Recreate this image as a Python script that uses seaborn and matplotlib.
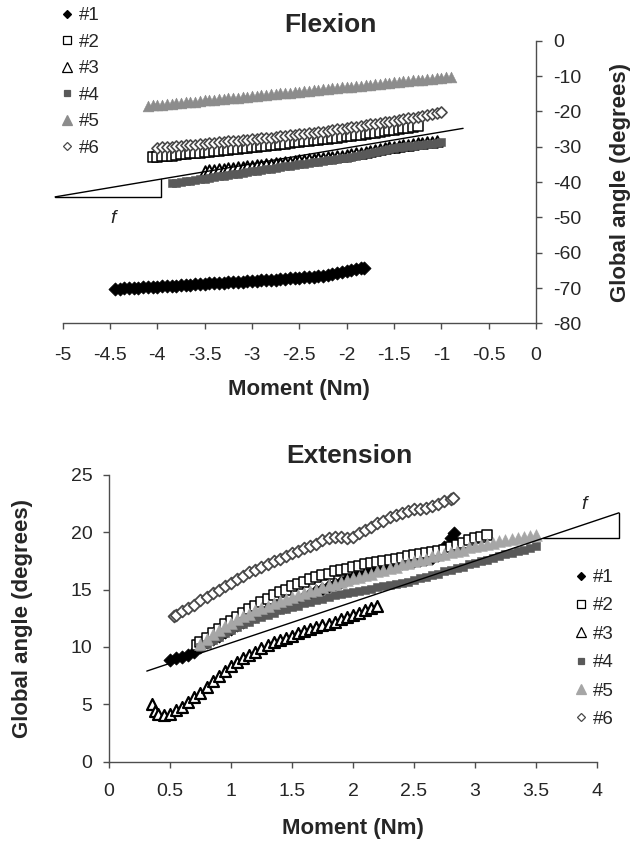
import matplotlib
matplotlib.use("Agg")
import matplotlib.pyplot as plt
import pandas as pd
import seaborn as sns
from matplotlib.lines import Line2D

# ---------------- data ----------------
labels = ["#1", "#2", "#3", "#4", "#5", "#6"]

# Flexion (moment Nm, global angle deg)
flex1 = [(-4.45,-70.3),(-4.40,-70.2),(-4.35,-70.1),(-4.30,-70.0),(-4.25,-70.0),(-4.20,-69.9),(-4.15,-69.8),(-4.10,-69.8),
         (-4.05,-69.7),(-4.00,-69.6),(-3.95,-69.5),(-3.90,-69.4),(-3.85,-69.4),(-3.80,-69.3),(-3.75,-69.2),(-3.70,-69.1),
         (-3.65,-69.1),(-3.60,-69.0),(-3.55,-68.9),(-3.50,-68.8),(-3.45,-68.7),(-3.40,-68.7),(-3.35,-68.6),(-3.30,-68.5),
         (-3.25,-68.4),(-3.20,-68.3),(-3.15,-68.3),(-3.10,-68.2),(-3.05,-68.1),(-3.00,-68.0),(-2.95,-67.9),(-2.90,-67.8),
         (-2.85,-67.7),(-2.80,-67.6),(-2.75,-67.6),(-2.70,-67.5),(-2.65,-67.4),(-2.60,-67.3),(-2.55,-67.2),(-2.50,-67.1),
         (-2.45,-67.0),(-2.40,-66.9),(-2.35,-66.8),(-2.30,-66.7),(-2.25,-66.6),(-2.20,-66.4),(-2.15,-66.0),(-2.10,-65.7),
         (-2.05,-65.5),(-2.00,-65.3),(-1.95,-65.0),(-1.90,-64.7),(-1.85,-64.4),(-1.82,-64.2)]
flex2 = [(-4.05,-33.0),(-4.00,-32.9),(-3.95,-32.7),(-3.90,-32.6),(-3.85,-32.5),(-3.80,-32.3),(-3.75,-32.2),(-3.70,-32.1),
         (-3.65,-31.9),(-3.60,-31.8),(-3.55,-31.7),(-3.50,-31.5),(-3.45,-31.4),(-3.40,-31.3),(-3.35,-31.1),(-3.30,-31.0),
         (-3.25,-30.9),(-3.20,-30.7),(-3.15,-30.6),(-3.10,-30.5),(-3.05,-30.3),(-3.00,-30.2),(-2.95,-30.0),(-2.90,-29.9),
         (-2.85,-29.7),(-2.80,-29.6),(-2.75,-29.4),(-2.70,-29.3),(-2.65,-29.1),(-2.60,-29.0),(-2.55,-28.8),(-2.50,-28.7),
         (-2.45,-28.5),(-2.40,-28.4),(-2.35,-28.2),(-2.30,-28.1),(-2.25,-27.9),(-2.20,-27.8),(-2.15,-27.6),(-2.10,-27.4),
         (-2.05,-27.3),(-2.00,-27.1),(-1.95,-26.9),(-1.90,-26.8),(-1.85,-26.6),(-1.80,-26.4),(-1.75,-26.2),(-1.70,-26.0),
         (-1.65,-25.8),(-1.60,-25.6),(-1.55,-25.4),(-1.50,-25.2),(-1.45,-25.0),(-1.40,-24.8),(-1.35,-24.6),(-1.30,-24.4),
         (-1.25,-24.2)]
flex3 = [(-3.50,-36.9),(-3.45,-36.7),(-3.40,-36.6),(-3.35,-36.4),(-3.30,-36.3),(-3.25,-36.1),(-3.20,-36.0),(-3.15,-35.8),
         (-3.10,-35.7),(-3.05,-35.5),(-3.00,-35.4),(-2.95,-35.2),(-2.90,-35.1),(-2.85,-34.9),(-2.80,-34.8),(-2.75,-34.6),
         (-2.70,-34.5),(-2.65,-34.3),(-2.60,-34.2),(-2.55,-34.0),(-2.50,-33.9),(-2.45,-33.7),(-2.40,-33.6),(-2.35,-33.4),
         (-2.30,-33.3),(-2.25,-33.1),(-2.20,-33.0),(-2.15,-32.8),(-2.10,-32.6),(-2.05,-32.5),(-2.00,-32.3),(-1.95,-32.1),
         (-1.90,-31.9),(-1.85,-31.7),(-1.80,-31.4),(-1.75,-31.2),(-1.70,-30.9),(-1.65,-30.7),(-1.60,-30.4),(-1.55,-30.2),
         (-1.50,-30.0),(-1.45,-29.8),(-1.40,-29.6),(-1.35,-29.4),(-1.30,-29.2),(-1.25,-29.0),(-1.20,-28.9),(-1.15,-28.7),
         (-1.10,-28.6),(-1.05,-28.5)]
flex4 = [(-3.85,-40.4),(-3.80,-40.2),(-3.75,-40.0),(-3.70,-39.8),(-3.65,-39.6),(-3.60,-39.4),(-3.55,-39.2),(-3.50,-39.0),
         (-3.45,-38.8),(-3.40,-38.6),(-3.35,-38.4),(-3.30,-38.2),(-3.25,-38.0),(-3.20,-37.8),(-3.15,-37.6),(-3.10,-37.4),
         (-3.05,-37.2),(-3.00,-37.0),(-2.95,-36.8),(-2.90,-36.6),(-2.85,-36.4),(-2.80,-36.2),(-2.75,-36.0),(-2.70,-35.8),
         (-2.65,-35.6),(-2.60,-35.4),(-2.55,-35.2),(-2.50,-35.0),(-2.45,-34.8),(-2.40,-34.6),(-2.35,-34.4),(-2.30,-34.3),
         (-2.25,-34.1),(-2.20,-33.9),(-2.15,-33.7),(-2.10,-33.5),(-2.05,-33.3),(-2.00,-33.1),(-1.95,-32.9),(-1.90,-32.6),
         (-1.85,-32.3),(-1.80,-32.0),(-1.75,-31.7),(-1.70,-31.4),(-1.65,-31.1),(-1.60,-30.8),(-1.55,-30.6),(-1.50,-30.4),
         (-1.45,-30.2),(-1.40,-30.0),(-1.35,-29.9),(-1.30,-29.7),(-1.25,-29.6),(-1.20,-29.4),(-1.15,-29.3),(-1.10,-29.1),
         (-1.05,-29.0),(-1.00,-28.8)]
flex5 = [(-4.10,-18.4),(-4.05,-18.3),(-4.00,-18.2),(-3.95,-18.1),(-3.90,-17.9),(-3.85,-17.8),(-3.80,-17.7),(-3.75,-17.6),
         (-3.70,-17.4),(-3.65,-17.3),(-3.60,-17.2),(-3.55,-17.1),(-3.50,-16.9),(-3.45,-16.8),(-3.40,-16.7),(-3.35,-16.6),
         (-3.30,-16.4),(-3.25,-16.3),(-3.20,-16.2),(-3.15,-16.1),(-3.10,-15.9),(-3.05,-15.8),(-3.00,-15.7),(-2.95,-15.6),
         (-2.90,-15.4),(-2.85,-15.3),(-2.80,-15.2),(-2.75,-15.1),(-2.70,-14.9),(-2.65,-14.8),(-2.60,-14.7),(-2.55,-14.6),
         (-2.50,-14.4),(-2.45,-14.3),(-2.40,-14.2),(-2.35,-14.0),(-2.30,-13.9),(-2.25,-13.8),(-2.20,-13.6),(-2.15,-13.5),
         (-2.10,-13.4),(-2.05,-13.2),(-2.00,-13.1),(-1.95,-13.0),(-1.90,-12.8),(-1.85,-12.7),(-1.80,-12.6),(-1.75,-12.4),
         (-1.70,-12.3),(-1.65,-12.2),(-1.60,-12.0),(-1.55,-11.9),(-1.50,-11.8),(-1.45,-11.6),(-1.40,-11.5),(-1.35,-11.4),
         (-1.30,-11.2),(-1.25,-11.1),(-1.20,-11.0),(-1.15,-10.8),(-1.10,-10.7),(-1.05,-10.6),(-1.00,-10.5),(-0.95,-10.4),
         (-0.90,-10.3)]
flex6 = [(-4.00,-30.3),(-3.95,-30.2),(-3.90,-30.1),(-3.85,-30.0),(-3.80,-29.8),(-3.75,-29.7),(-3.70,-29.6),(-3.65,-29.5),
         (-3.60,-29.4),(-3.55,-29.3),(-3.50,-29.2),(-3.45,-29.0),(-3.40,-28.9),(-3.35,-28.8),(-3.30,-28.7),(-3.25,-28.5),
         (-3.20,-28.4),(-3.15,-28.3),(-3.10,-28.2),(-3.05,-28.0),(-3.00,-27.9),(-2.95,-27.8),(-2.90,-27.6),(-2.85,-27.5),
         (-2.80,-27.4),(-2.75,-27.3),(-2.70,-27.1),(-2.65,-27.0),(-2.60,-26.8),(-2.55,-26.7),(-2.50,-26.5),(-2.45,-26.4),
         (-2.40,-26.2),(-2.35,-26.0),(-2.30,-25.9),(-2.25,-25.7),(-2.20,-25.5),(-2.15,-25.3),(-2.10,-25.1),(-2.05,-24.9),
         (-2.00,-24.7),(-1.95,-24.5),(-1.90,-24.3),(-1.85,-24.1),(-1.80,-23.9),(-1.75,-23.7),(-1.70,-23.5),(-1.65,-23.3),
         (-1.60,-23.1),(-1.55,-22.9),(-1.50,-22.7),(-1.45,-22.5),(-1.40,-22.2),(-1.35,-22.0),(-1.30,-21.8),(-1.25,-21.5),
         (-1.20,-21.3),(-1.15,-21.0),(-1.10,-20.7),(-1.05,-20.4),(-1.00,-20.1)]
flex_fit_x = [-5.08, -0.77]
flex_fit_y = [-44.2, -24.8]
flex_tri_x = [-5.08, -3.96, -3.96]
flex_tri_y = [-44.2, -44.2, -39.16]
flex_f = (-4.47, -50.4)

# Extension
ext1 = [(0.50,8.9),(0.55,9.0),(0.60,9.1),(0.65,9.3),(0.70,9.6),(0.75,10.0),(0.80,10.4),(0.85,10.7),(0.90,11.0),(0.95,11.3),
        (1.00,11.6),(1.05,11.9),(1.10,12.2),(1.15,12.4),(1.20,12.7),(1.25,13.1),(1.30,13.7),(1.35,13.8),(1.40,13.5),(1.45,13.6),
        (1.50,13.9),(1.55,14.1),(1.60,14.4),(1.65,14.6),(1.70,14.9),(1.75,15.1),(1.80,15.3),(1.85,15.5),(1.90,15.7),(1.95,15.9),
        (2.00,16.1),(2.05,16.3),(2.10,16.4),(2.15,16.6),(2.20,16.8),(2.25,16.9),(2.30,17.1),(2.35,17.2),(2.40,17.3),(2.45,17.4),
        (2.50,17.5),(2.55,17.6),(2.60,17.7),(2.65,17.8),(2.70,18.0),(2.75,18.7),(2.80,19.5),(2.83,19.9)]
ext2 = [(0.72,10.2),(0.75,10.4),(0.80,10.8),(0.85,11.2),(0.90,11.6),(0.95,12.0),(1.00,12.3),(1.05,12.6),(1.10,13.0),(1.15,13.3),
        (1.20,13.6),(1.25,13.9),(1.30,14.2),(1.35,14.5),(1.40,14.8),(1.45,15.0),(1.50,15.3),(1.55,15.5),(1.60,15.7),(1.65,15.9),
        (1.70,16.1),(1.75,16.3),(1.80,16.4),(1.85,16.6),(1.90,16.7),(1.95,16.8),(2.00,17.0),(2.05,17.1),(2.10,17.2),(2.15,17.3),
        (2.20,17.4),(2.25,17.5),(2.30,17.6),(2.35,17.7),(2.40,17.8),(2.45,17.9),(2.50,18.0),(2.55,18.1),(2.60,18.2),(2.65,18.3),
        (2.70,18.4),(2.75,18.5),(2.80,18.7),(2.85,18.9),(2.90,19.1),(2.95,19.3),(3.00,19.5),(3.05,19.6),(3.10,19.8)]
ext3 = [(0.35,5.0),(0.38,4.4),(0.40,4.2),(0.45,4.1),(0.50,4.2),(0.55,4.5),(0.60,4.8),(0.65,5.2),(0.70,5.6),(0.75,6.0),
        (0.80,6.5),(0.85,7.0),(0.90,7.5),(0.95,7.9),(1.00,8.3),(1.05,8.7),(1.10,9.0),(1.15,9.3),(1.20,9.6),(1.25,9.9),
        (1.30,10.2),(1.35,10.4),(1.40,10.6),(1.45,10.8),(1.50,11.0),(1.55,11.2),(1.60,11.4),(1.65,11.6),(1.70,11.7),(1.75,11.9),
        (1.80,12.0),(1.85,12.2),(1.90,12.4),(1.95,12.6),(2.00,12.8),(2.05,13.0),(2.10,13.2),(2.15,13.4),(2.20,13.6)]
ext4 = [(0.75,10.0),(0.80,10.3),(0.85,10.6),(0.90,10.9),(0.95,11.2),(1.00,11.5),(1.05,11.7),(1.10,12.0),(1.15,12.2),(1.20,12.4),
        (1.25,12.6),(1.30,12.8),(1.35,13.0),(1.40,13.2),(1.45,13.3),(1.50,13.5),(1.55,13.6),(1.60,13.8),(1.65,13.9),(1.70,14.1),
        (1.75,14.2),(1.80,14.4),(1.85,14.5),(1.90,14.6),(1.95,14.7),(2.00,14.8),(2.05,14.9),(2.10,15.0),(2.15,15.1),(2.20,15.2),
        (2.25,15.3),(2.30,15.4),(2.35,15.5),(2.40,15.6),(2.45,15.7),(2.50,15.8),(2.55,16.0),(2.60,16.1),(2.65,16.3),(2.70,16.4),
        (2.75,16.6),(2.80,16.7),(2.85,16.9),(2.90,17.0),(2.95,17.2),(3.00,17.3),(3.05,17.5),(3.10,17.6),(3.15,17.8),(3.20,17.9),
        (3.25,18.1),(3.30,18.2),(3.35,18.4),(3.40,18.5),(3.45,18.6),(3.50,18.8)]
ext5 = [(0.75,10.3),(0.80,10.7),(0.85,11.1),(0.90,11.5),(0.95,11.8),(1.00,12.1),(1.05,12.4),(1.10,12.7),(1.15,12.9),(1.20,13.2),
        (1.25,13.4),(1.30,13.6),(1.35,13.8),(1.40,14.0),(1.45,14.2),(1.50,14.4),(1.55,14.5),(1.60,14.7),(1.65,14.9),(1.70,15.0),
        (1.75,15.2),(1.80,15.4),(1.85,15.5),(1.90,15.7),(1.95,15.8),(2.00,16.0),(2.05,16.1),(2.10,16.3),(2.15,16.4),(2.20,16.6),
        (2.25,16.7),(2.30,16.9),(2.35,17.0),(2.40,17.2),(2.45,17.3),(2.50,17.5),(2.55,17.6),(2.60,17.7),(2.65,17.9),(2.70,18.0),
        (2.75,18.1),(2.80,18.3),(2.85,18.4),(2.90,18.5),(2.95,18.7),(3.00,18.8),(3.05,18.9),(3.10,19.0),(3.15,19.1),(3.20,19.2),
        (3.25,19.3),(3.30,19.4),(3.35,19.5),(3.40,19.6),(3.45,19.7),(3.50,19.8)]
ext6 = [(0.53,12.7),(0.55,12.8),(0.60,13.1),(0.65,13.4),(0.70,13.7),(0.75,14.1),(0.80,14.4),(0.85,14.7),(0.90,15.0),(0.95,15.3),
        (1.00,15.6),(1.05,15.9),(1.10,16.2),(1.15,16.5),(1.20,16.7),(1.25,17.0),(1.30,17.2),(1.35,17.5),(1.40,17.7),(1.45,17.9),
        (1.50,18.2),(1.55,18.4),(1.60,18.6),(1.65,18.8),(1.70,19.0),(1.75,19.3),(1.80,19.5),(1.85,19.6),(1.90,19.6),(1.95,19.5),
        (2.00,19.6),(2.05,19.9),(2.10,20.2),(2.15,20.5),(2.20,20.8),(2.25,21.0),(2.30,21.3),(2.35,21.5),(2.40,21.7),(2.45,21.9),
        (2.50,22.0),(2.55,22.0),(2.60,22.1),(2.65,22.3),(2.70,22.5),(2.75,22.7),(2.80,22.9),(2.82,23.0)]
ext_fit_x = [0.31, 4.18]
ext_fit_y = [7.9, 21.7]
ext_tri_x = [3.56, 4.18, 4.18]
ext_tri_y = [19.5, 19.5, 21.7]
ext_f = (3.89, 22.4)

flex_xticks = [-5, -4.5, -4, -3.5, -3, -2.5, -2, -1.5, -1, -0.5, 0]
flex_xticklabels = ["-5", "-4.5", "-4", "-3.5", "-3", "-2.5", "-2", "-1.5", "-1", "-0.5", "0"]
flex_yticks = [0, -10, -20, -30, -40, -50, -60, -70, -80]
flex_yticklabels = ["0", "-10", "-20", "-30", "-40", "-50", "-60", "-70", "-80"]
ext_xticks = [0, 0.5, 1, 1.5, 2, 2.5, 3, 3.5, 4]
ext_xticklabels = ["0", "0.5", "1", "1.5", "2", "2.5", "3", "3.5", "4"]
ext_yticks = [0, 5, 10, 15, 20, 25]
ext_yticklabels = ["0", "5", "10", "15", "20", "25"]

# ---------------- styles ----------------
sns.set_style("ticks")
plt.rcParams["font.family"] = ["Liberation Sans", "DejaVu Sans"]
plt.rcParams["axes.unicode_minus"] = False

GRAY5_TOP = "#8c8c8c"
GRAY5_BOT = "#a6a6a6"
GRAY4 = "#595959"
EDGE6 = "#484848"
AX_COL = "#4d4d4d"

# marker, size(s), face, edge, lw
styles_top = [("D", 44, "black", "black", 0.6),
              ("s", 52, "white", "black", 1.1),
              ("^", 58, "white", "black", 1.4),
              ("s", 26, GRAY4, GRAY4, 0.4),
              ("^", 60, GRAY5_TOP, GRAY5_TOP, 0.4),
              ("D", 32, "white", EDGE6, 1.2)]
styles_bot = [("D", 44, "black", "black", 0.6),
              ("s", 52, "white", "black", 1.1),
              ("^", 62, "white", "black", 1.6),
              ("s", 26, GRAY4, GRAY4, 0.4),
              ("^", 72, GRAY5_BOT, GRAY5_BOT, 0.4),
              ("D", 36, "white", EDGE6, 1.3)]


def draw(ax, pts, st, z):
    df = pd.DataFrame(pts, columns=["moment", "angle"])
    m, s, fc, ec, lw = st
    sns.scatterplot(data=df, x="moment", y="angle", ax=ax, marker=m, s=s,
                    color=fc, edgecolor=ec, linewidth=lw, legend=False, zorder=z)


def legend_handles(styles):
    sizes = {"D": 4.4, "s": 6.0, "^": 7.0}
    hs = []
    for (m, s, fc, ec, lw), lab in zip(styles, labels):
        ms = sizes[m] if s > 30 else 4.0
        hs.append(Line2D([], [], linestyle="none", marker=m, markersize=ms,
                         markerfacecolor=fc, markeredgecolor=ec, markeredgewidth=0.9, label=lab))
    return hs


fig = plt.figure(figsize=(6.31, 8.42), dpi=100)

# ---------------- Flexion ----------------
ax1 = fig.add_axes([0.0994, 0.616, 0.7500, 0.3356])
for i, pts in enumerate([flex1, flex2, flex3, flex4, flex5, flex6]):
    draw(ax1, pts, styles_top[i], 3 + i)
ax1.plot(flex_fit_x, flex_fit_y, color="black", lw=1.0, zorder=20, clip_on=False)
ax1.plot(flex_tri_x, flex_tri_y, color="black", lw=1.0, zorder=20, clip_on=False)
ax1.text(flex_f[0], flex_f[1], "f", fontsize=14, fontstyle="italic", ha="center", va="center")
ax1.set_xlim(-5, 0)
ax1.set_ylim(-80, 0)
ax1.set_xticks(flex_xticks)
ax1.set_xticklabels(flex_xticklabels)
ax1.set_yticks(flex_yticks)
ax1.set_yticklabels(flex_yticklabels)
ax1.yaxis.tick_right()
ax1.yaxis.set_label_position("right")
for sp in ["left", "top"]:
    ax1.spines[sp].set_visible(False)
for sp in ["right", "bottom"]:
    ax1.spines[sp].set_color(AX_COL)
    ax1.spines[sp].set_linewidth(1.0)
ax1.tick_params(axis="x", direction="out", length=4.3, width=1.0, color=AX_COL, pad=13, labelsize=14)
ax1.tick_params(axis="y", direction="out", length=4.3, width=1.0, color=AX_COL, pad=8.4, labelsize=14)
ax1.set_xlabel("Moment (Nm)", fontsize=16, fontweight="bold")
ax1.xaxis.set_label_coords(0.5, -0.197)
ax1.set_ylabel("Global angle (degrees)", fontsize=16, fontweight="bold", rotation=90, va="center", ha="center")
ax1.yaxis.set_label_coords(1.179, 0.5)
fig.text(330 / 631, 1 - 32.3 / 842, "Flexion", fontsize=19, fontweight="bold", ha="center", va="baseline")
fig.legend(handles=legend_handles(styles_top), loc="upper left", bbox_to_anchor=(59 / 631, 1 - 7 / 842),
           frameon=False, fontsize=13.5, borderpad=0, borderaxespad=0, handlelength=0.8,
           handletextpad=0.25, labelspacing=0.5)

# ---------------- Extension ----------------
ax2 = fig.add_axes([0.1727, 0.0954, 0.7734, 0.3405])
for i, pts in enumerate([ext1, ext2, ext3, ext4, ext5, ext6]):
    draw(ax2, pts, styles_bot[i], 3 + i)
ax2.plot(ext_fit_x, ext_fit_y, color="black", lw=1.0, zorder=20, clip_on=False)
ax2.plot(ext_tri_x, ext_tri_y, color="black", lw=1.0, zorder=20, clip_on=False)
ax2.text(ext_f[0], ext_f[1], "f", fontsize=14, fontstyle="italic", ha="center", va="center")
ax2.set_xlim(0, 4)
ax2.set_ylim(0, 25)
ax2.set_xticks(ext_xticks)
ax2.set_xticklabels(ext_xticklabels)
ax2.set_yticks(ext_yticks)
ax2.set_yticklabels(ext_yticklabels)
for sp in ["right", "top"]:
    ax2.spines[sp].set_visible(False)
for sp in ["left", "bottom"]:
    ax2.spines[sp].set_color(AX_COL)
    ax2.spines[sp].set_linewidth(1.0)
ax2.tick_params(axis="x", direction="out", length=4.3, width=1.0, color=AX_COL, pad=10.8, labelsize=14)
ax2.tick_params(axis="y", direction="out", length=4.3, width=1.0, color=AX_COL, pad=7.7, labelsize=14)
ax2.set_xlabel("Moment (Nm)", fontsize=16, fontweight="bold")
ax2.xaxis.set_label_coords(0.5, -0.196)
ax2.set_ylabel("Global angle (degrees)", fontsize=16, fontweight="bold", va="center", ha="center")
ax2.yaxis.set_label_coords(-0.178, 0.5)
fig.text(349 / 631, 1 - 463.3 / 842, "Extension", fontsize=19, fontweight="bold", ha="center", va="baseline")
fig.legend(handles=legend_handles(styles_bot), loc="upper left", bbox_to_anchor=(573 / 631, 1 - 569 / 842),
           frameon=False, fontsize=13.5, borderpad=0, borderaxespad=0, handlelength=0.8,
           handletextpad=0.25, labelspacing=0.6)

fig.savefig("out.png", dpi=100)
